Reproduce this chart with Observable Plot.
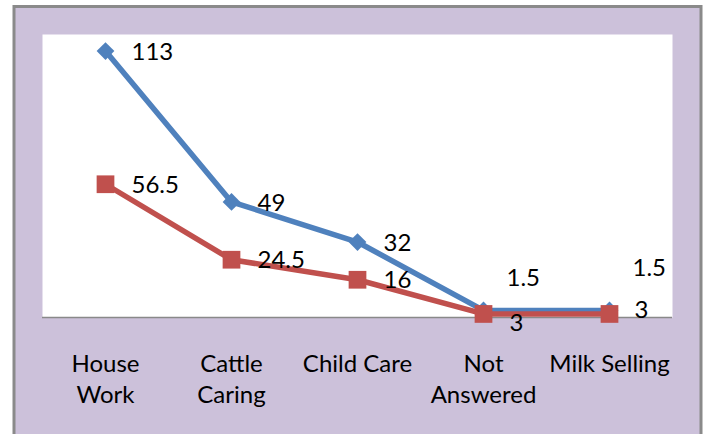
<!DOCTYPE html>
<html>
<head>
<meta charset="utf-8">
<script src="https://cdn.jsdelivr.net/npm/d3@7"></script>
<script src="https://cdn.jsdelivr.net/npm/@observablehq/plot@0.6"></script>
<style>
  html, body { margin: 0; padding: 0; background: #ffffff; overflow: hidden; }
</style>
</head>
<body>
<div id="chart"></div>
<script>
const categories = ["House Work", "Cattle Caring", "Child Care", "Not Answered", "Milk Selling"];
const tickLabels = ["House\nWork", "Cattle\nCaring", "Child Care", "Not\nAnswered", "Milk Selling"];
const blueValues = [113, 49, 32, 3, 3];
const redValues = [56.5, 24.5, 16, 1.5, 1.5];
const blueLabels = ["113", "49", "32", "3", "3"];
const redLabels = ["56.5", "24.5", "16", "1.5", "1.5"];

const blue = categories.map((c, i) => ({cat: c, v: blueValues[i], label: blueLabels[i], i}));
const red = categories.map((c, i) => ({cat: c, v: redValues[i], label: redLabels[i], i}));

const BLUE = "#4f81bd", RED = "#c0504d";
const FONT = 24;
const txt = {x: "cat", y: "v", text: "label", textAnchor: "start", lineAnchor: "middle", fontSize: FONT, fill: "#000"};

const chart = Plot.plot({
  width: 706,
  height: 434,
  marginLeft: 42,
  marginRight: 34,
  marginTop: 34,
  marginBottom: 117,
  style: {fontFamily: "Lato, sans-serif", color: "#000", background: "transparent", overflow: "visible"},
  x: {type: "point", domain: categories, padding: 0.5, axis: null, label: null},
  y: {domain: [0, 120], axis: null},
  marks: [
    Plot.frame({fill: "#ccc1da", stroke: "#8a8a8a", strokeWidth: 3, insetTop: -28, insetLeft: -28.5, insetRight: -28.5, insetBottom: -123}),
    Plot.frame({fill: "#ffffff"}),
    Plot.ruleY([0], {stroke: "#898989", strokeWidth: 1.5}),
    Plot.axisX({tickSize: 0, tickPadding: 33, fontSize: FONT, lineHeight: 1.29, label: null, tickFormat: d => tickLabels[categories.indexOf(d)]}),
    Plot.lineY(blue, {x: "cat", y: "v", stroke: BLUE, strokeWidth: 5.5, strokeLinejoin: "round"}),
    Plot.dot(blue, {x: "cat", y: "v", symbol: "diamond2", r: 8, fill: BLUE, stroke: "none"}),
    Plot.lineY(red, {x: "cat", y: "v", stroke: RED, strokeWidth: 5.5, strokeLinejoin: "round"}),
    Plot.dot(red, {x: "cat", y: "v", symbol: "square", r: 10, fill: RED, stroke: "none"}),
    Plot.text(blue.filter(d => d.i < 3), {...txt, dx: 26, dy: 1}),
    Plot.text(red.filter(d => d.i < 3), {...txt, dx: 26, dy: 1}),
    Plot.text(blue.filter(d => d.i === 3), {...txt, dx: 26, dy: 13}),
    Plot.text(blue.filter(d => d.i === 4), {...txt, dx: 25, dy: 0}),
    Plot.text(red.filter(d => d.i === 3), {...txt, dx: 23, dy: -36}),
    Plot.text(red.filter(d => d.i === 4), {...txt, dx: 23, dy: -46})
  ]
});
document.getElementById("chart").appendChild(chart);
</script>
</body>
</html>
